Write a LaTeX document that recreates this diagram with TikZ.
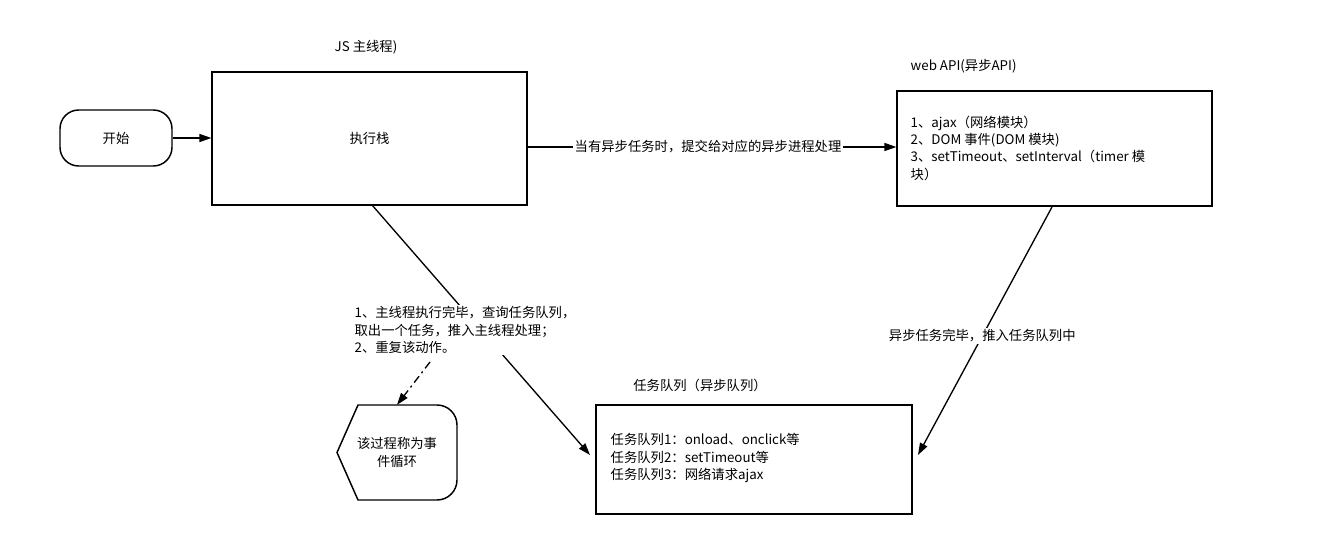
\documentclass[tikz,border=0pt]{standalone}
\usepackage{fontspec}
\setmainfont{Noto Sans CJK SC}
\usetikzlibrary{arrows.meta}
\begin{document}
\begin{tikzpicture}[x=0.75pt,y=-0.75pt,
  font=\fontsize{10}{13}\selectfont,
  box/.style={draw,line width=1.1pt,rectangle,inner sep=0pt},
  arr/.style={line width=1pt,-{Triangle[length=9pt,width=6pt]}},
  lbl/.style={fill=white,inner sep=1pt,align=left}]
\useasboundingbox (0,0) rectangle (1322,546);
\node[draw,line width=1.1pt,rounded corners=14pt,minimum width=84pt,minimum height=42pt] (start) at (116,138) {开始};
\node[box,minimum width=236pt,minimum height=100pt] (stack) at (369.5,138.5) {执行栈};
\node at (366,47) {JS 主线程)};
\node[box,minimum width=236pt,minimum height=86pt] (web) at (1054.5,148.5) {};
\node[anchor=west] at (906,66) {web API(异步API)};
\node[anchor=west,align=left] at (906,148) {1、ajax（网络模块）\\2、DOM 事件(DOM 模块)\\3、setTimeout、setInterval（timer 模\\块）};
\node[box,minimum width=237pt,minimum height=82pt] (queue) at (754,459.5) {};
\node at (700,385) {任务队列（异步队列）};
\node[anchor=west,align=left] at (606,458) {任务队列1：onload、onclick等\\任务队列2：setTimeout等\\任务队列3：网络请求ajax};
\node[minimum width=90pt,minimum height=71pt,align=center] (disp) at (397,452.5) {该过程称为事\\件循环};
\draw[line width=1.1pt] (358,405) -- (437,405) to[out=0,in=90] (457,425) -- (457,480) to[out=-90,in=0] (437,500) -- (358,500) -- (337,452.5) -- cycle;
\draw[arr] (start) -- (stack.west |- start);
\coordinate (s1) at (527,147);
\draw[arr] (s1) -- (web.west |- s1) node[lbl,pos=0.49] {当有异步任务时，提交给对应的异步进程处理};
\coordinate (s2) at (372,205);
\coordinate (q1) at (590,455);
\draw[arr] (s2) -- (q1) node[lbl,pos=0.5,anchor=center,xshift=-12pt] (loop) {1、主线程执行完毕，查询任务队列，\\取出一个任务，推入主线程处理；\\2、重复该动作。};
\coordinate (d0) at (430,362);
\draw[arr,dash pattern=on 6pt off 3pt on 1.5pt off 3pt] (d0) -- (disp.north);
\coordinate (w1) at (1052,207);
\coordinate (q2) at (918,455);
\draw[arr] (w1) -- (q2) node[lbl,pos=0.52] {异步任务完毕，推入任务队列中};
\end{tikzpicture}
\end{document}
